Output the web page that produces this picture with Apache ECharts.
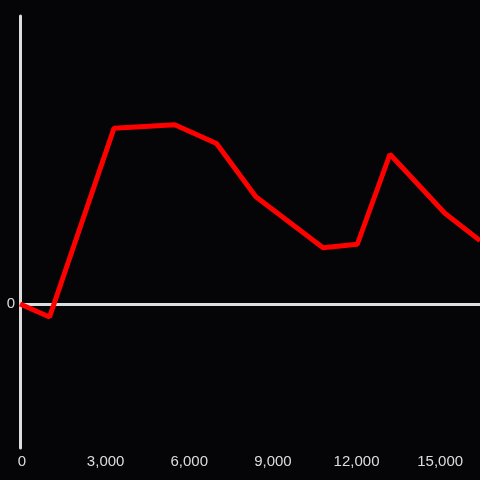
<!DOCTYPE html>
<html>
<head>
<meta charset="utf-8">
<script src="https://cdn.jsdelivr.net/npm/echarts@6/dist/echarts.min.js"></script>
<style>
html,body{margin:0;padding:0;background:#050407;}
#main{width:480px;height:480px;}
</style>
</head>
<body>
<div id="main"></div>
<script>
var xValues = [0, 1060, 3370, 5550, 7050, 8460, 10870, 12100, 13270, 15240, 16500];
var yValues = [0, -0.09, 1.22, 1.245, 1.115, 0.745, 0.39, 0.415, 1.04, 0.63, 0.44];
var xTicks = [0, 3000, 6000, 9000, 12000, 15000];

var points = [];
for (var i = 0; i < xValues.length; i++) {
	points.push([xValues[i], yValues[i]]);
}

var myChart = echarts.init(document.getElementById('main'));
var option = {
	backgroundColor: '#050407',
	animation: false,
	grid: {left: 20, right: 0, top: 16, bottom: 32, containLabel: false},
	xAxis: {
		type: 'value',
		min: 0,
		max: 16500,
		interval: 3000,
		axisLine: {show: false, onZero: false},
		axisTick: {show: false},
		splitLine: {show: false},
		axisLabel: {
			color: '#dddddd',
			fontSize: 15,
			fontFamily: 'Liberation Sans',
			margin: 6,
			padding: [0, 0, 0, 4],
			showMaxLabel: false,
			formatter: function (v) {
				return xTicks.indexOf(v) >= 0 ? v.toLocaleString('en-US') : '';
			}
		}
	},
	yAxis: {
		type: 'value',
		min: -1,
		max: 2,
		interval: 1,
		axisLine: {show: true, lineStyle: {color: '#dddddd', width: 3}},
		axisTick: {show: false},
		splitLine: {show: false},
		axisLabel: {
			color: '#dddddd',
			fontSize: 15,
			fontFamily: 'Liberation Sans',
			margin: 5,
			formatter: function (v) {
				return v === 0 ? '0' : '';
			}
		}
	},
	series: [{
		type: 'line',
		data: points,
		symbol: 'none',
		lineStyle: {color: '#ff0000', width: 5},
		markLine: {
			silent: true,
			symbol: 'none',
			label: {show: false},
			lineStyle: {color: '#dddddd', width: 3, type: 'solid'},
			data: [{yAxis: 0}],
			z: 1
		},
		z: 3
	}]
};
myChart.setOption(option);
</script>
</body>
</html>
